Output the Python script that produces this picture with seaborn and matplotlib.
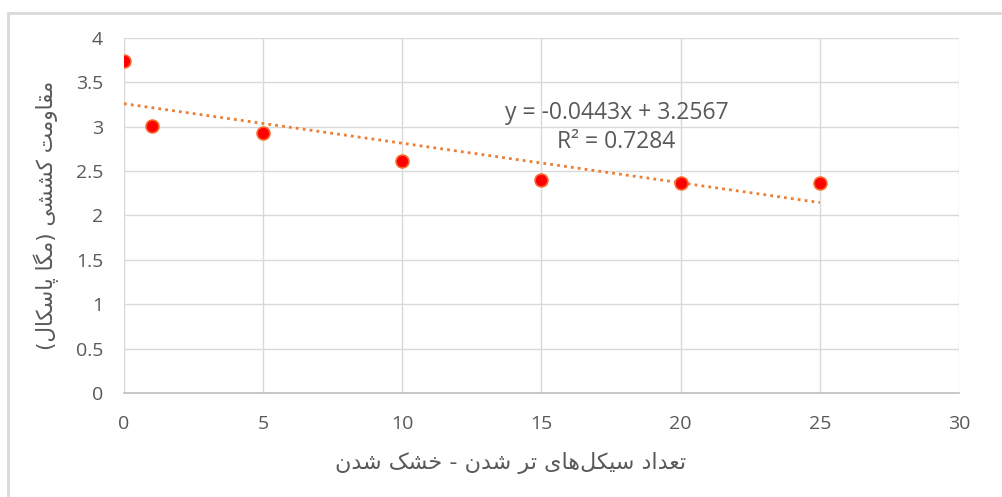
import numpy as np
import pandas as pd
import seaborn as sns
import matplotlib.pyplot as plt
from matplotlib.patches import Rectangle

# data
cycles = [0, 1, 5, 10, 15, 20, 25]
strength = [3.74, 3.01, 2.93, 2.61, 2.40, 2.37, 2.37]
x_ticks = [0, 5, 10, 15, 20, 25, 30]
y_ticks = [0, 0.5, 1, 1.5, 2, 2.5, 3, 3.5, 4]
x_label = "تعداد سیکل‌های تر شدن - خشک شدن"
y_label = "مقاومت کششی (مگا پاسکال)"
eq_text = "y = -0.0443x + 3.2567"
r2_text = "R² = 0.7284"

# Persian presentation forms: isolated, final, initial, medial
FORMS = {
    'ا': ('\uFE8D', '\uFE8E', None, None),
    'د': ('\uFEA9', '\uFEAA', None, None),
    'ر': ('\uFEAD', '\uFEAE', None, None),
    'و': ('\uFEED', '\uFEEE', None, None),
    'ت': ('\uFE95', '\uFE96', '\uFE97', '\uFE98'),
    'ع': ('\uFEC9', '\uFECA', '\uFECB', '\uFECC'),
    'س': ('\uFEB1', '\uFEB2', '\uFEB3', '\uFEB4'),
    'ش': ('\uFEB5', '\uFEB6', '\uFEB7', '\uFEB8'),
    'ی': ('\uFBFC', '\uFBFD', '\uFBFE', '\uFBFF'),
    'ک': ('\uFB8E', '\uFB8F', '\uFB90', '\uFB91'),
    'گ': ('\uFB92', '\uFB93', '\uFB94', '\uFB95'),
    'ل': ('\uFEDD', '\uFEDE', '\uFEDF', '\uFEE0'),
    'ه': ('\uFEE9', '\uFEEA', '\uFEEB', '\uFEEC'),
    'ن': ('\uFEE5', '\uFEE6', '\uFEE7', '\uFEE8'),
    'خ': ('\uFEA5', '\uFEA6', '\uFEA7', '\uFEA8'),
    'م': ('\uFEE1', '\uFEE2', '\uFEE3', '\uFEE4'),
    'ق': ('\uFED5', '\uFED6', '\uFED7', '\uFED8'),
    'پ': ('\uFB56', '\uFB57', '\uFB58', '\uFB59'),
}
MIRROR = {'(': ')', ')': '('}


def rtl(text):
    out = []
    for i, c in enumerate(text):
        if c not in FORMS:
            if c != '\u200c':
                out.append(MIRROR.get(c, c))
            continue
        prev = text[i - 1] if i > 0 else ''
        nxt = text[i + 1] if i + 1 < len(text) else ''
        joins_prev = prev in FORMS and FORMS[prev][2] is not None
        joins_next = FORMS[c][2] is not None and nxt in FORMS
        iso, fin, ini, med = FORMS[c]
        if joins_prev and joins_next:
            out.append(med)
        elif joins_prev:
            out.append(fin)
        elif joins_next:
            out.append(ini)
        else:
            out.append(iso)
    return ''.join(reversed(out))


sns.set_style("white")
plt.rcParams['font.family'] = ['Open Sans', 'DejaVu Sans']
grey = '#595959'

df = pd.DataFrame({'cycles': cycles, 'strength': strength})

fig = plt.figure(figsize=(10.03, 4.97), dpi=100)
ax = fig.add_axes([0.1236, 0.2093, 0.8325, 0.7143])

sns.regplot(data=df, x='cycles', y='strength', ax=ax, ci=None, truncate=True,
            scatter_kws=dict(s=85, color='#FF0000', edgecolors='#F8662A',
                             linewidths=1.2, zorder=3, alpha=1),
            line_kws=dict(color='#ED7D31', lw=2, ls=(0, (1, 1.5)), zorder=2))

ax.set_xlim(0, 30)
ax.set_ylim(0, 4)
ax.set_xticks(x_ticks)
ax.set_yticks(y_ticks)
ax.set_xticklabels([str(t) for t in x_ticks])
ax.set_yticklabels([f'{t:g}' for t in y_ticks])
ax.grid(True, color='#D9D9D9', lw=1)
ax.set_axisbelow(True)
for s in ['top', 'right', 'left']:
    ax.spines[s].set_visible(False)
ax.spines['bottom'].set_color('#BFBFBF')
ax.spines['bottom'].set_linewidth(1.2)
ax.tick_params(axis='both', length=0, labelsize=14, labelcolor=grey)
ax.tick_params(axis='x', pad=16)
ax.tick_params(axis='y', pad=15)

ax.set_xlabel(rtl(x_label), fontsize=16, color=grey, family='DejaVu Sans')
ax.xaxis.set_label_coords(0.4625, -0.165)
ax.set_ylabel(rtl(y_label), fontsize=15.5, color=grey, labelpad=12,
              family='DejaVu Sans')

ax.text(17.7, 3.16, eq_text, ha='center', va='center', fontsize=16.5, color=grey)
ax.text(17.7, 2.83, r2_text, ha='center', va='center', fontsize=16.5, color=grey)

fig.patches.append(Rectangle((8 / 1003, -0.1), 1.0, (497 - 13) / 497 + 0.1,
                             transform=fig.transFigure, fill=False,
                             ec='#D9D9D9', lw=2))

fig.savefig('out.png', dpi=100)
